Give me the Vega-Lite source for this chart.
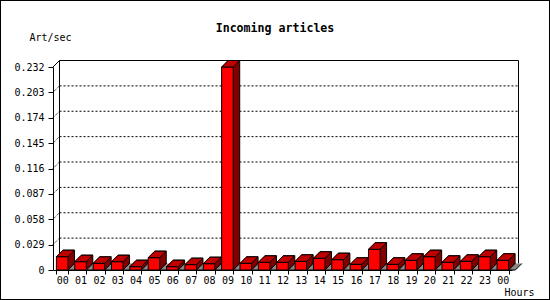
{
  "$schema": "https://vega.github.io/schema/vega-lite/v6.json",
  "width": 550,
  "height": 300,
  "autosize": {"type": "none"},
  "padding": 0,
  "background": "white",
  "config": {"view": {"stroke": "black", "strokeWidth": 2}, "font": "DejaVu Sans Mono"},
  "title": {"text": "Incoming articles", "anchor": "middle", "frame": "group", "offset": -35, "font": "DejaVu Sans Mono", "fontSize": 11.6, "fontWeight": "bold", "color": "black"},
  "datasets": {
    "hours": [
      {"h": 0, "v": 0.0152}, {"h": 1, "v": 0.0095}, {"h": 2, "v": 0.0076}, {"h": 3, "v": 0.0095},
      {"h": 4, "v": 0.0038}, {"h": 5, "v": 0.0141}, {"h": 6, "v": 0.0038}, {"h": 7, "v": 0.0061},
      {"h": 8, "v": 0.0072}, {"h": 9, "v": 0.232}, {"h": 10, "v": 0.0076}, {"h": 11, "v": 0.0088},
      {"h": 12, "v": 0.0088}, {"h": 13, "v": 0.0099}, {"h": 14, "v": 0.0134}, {"h": 15, "v": 0.0118},
      {"h": 16, "v": 0.0065}, {"h": 17, "v": 0.0237}, {"h": 18, "v": 0.0065}, {"h": 19, "v": 0.0111},
      {"h": 20, "v": 0.0152}, {"h": 21, "v": 0.0088}, {"h": 22, "v": 0.0099}, {"h": 23, "v": 0.0152},
      {"h": 24, "v": 0.0111}
    ],
    "grid": [{"v": 0.029}, {"v": 0.058}, {"v": 0.087}, {"v": 0.116}, {"v": 0.145}, {"v": 0.174}, {"v": 0.203}],
    "one": [{"v": 0.232}]
  },
  "resolve": {"scale": {"x": "independent"}, "axis": {"x": "independent", "y": "independent"}},
  "layer": [
    {
      "resolve": {"axis": {"x": "independent", "y": "independent"}},
      "encoding": {
        "x": {"datum": 0, "type": "quantitative", "scale": {"domain": [0, 1], "range": [53, 512]}, "axis": null},
        "y": {"field": "v", "type": "quantitative", "scale": {"domain": [0, 0.232], "range": [270, 67], "nice": false, "zero": true}, "axis": null}
      },
      "layer": [
        {"data": {"name": "grid"}, "mark": {"type": "rule", "color": "black", "strokeWidth": 1, "strokeDash": [2, 2], "xOffset": 6.5, "x2Offset": 6.5, "yOffset": -6.5},
         "encoding": {"x2": {"datum": 1}}},
        {"data": {"name": "grid"}, "mark": {"type": "rule", "color": "black", "strokeWidth": 1, "strokeDash": [1, 1], "x2Offset": 6.5, "y2Offset": -6.5},
         "encoding": {"x2": {"datum": 0}, "y2": {"field": "v"}}},
        {"data": {"name": "one"}, "mark": {"type": "rule", "color": "black", "strokeWidth": 1, "xOffset": 6.5, "x2Offset": 6.5, "yOffset": -6.5},
         "encoding": {"x2": {"datum": 1}}},
        {"data": {"name": "one"}, "mark": {"type": "rule", "color": "black", "strokeWidth": 1, "x2Offset": 6.5, "y2Offset": -6.5},
         "encoding": {"x2": {"datum": 0}, "y2": {"field": "v"}}},
        {"data": {"name": "one"}, "mark": {"type": "rule", "color": "black", "strokeWidth": 1, "xOffset": 6.5, "yOffset": -6.5, "y2Offset": -6.5},
         "encoding": {"y": {"datum": 0, "type": "quantitative", "axis": null}, "y2": {"field": "v"}}},
        {"data": {"name": "one"}, "mark": {"type": "rule", "color": "black", "strokeWidth": 1, "xOffset": 6.5, "yOffset": -6.5, "y2Offset": -6.5},
         "encoding": {"x": {"datum": 1, "type": "quantitative", "axis": null}, "y": {"datum": 0, "type": "quantitative", "axis": null}, "y2": {"field": "v"}}}
      ]
    },
    {
      "data": {"name": "hours"},
      "resolve": {"axis": {"x": "independent", "y": "independent"}},
      "encoding": {
        "x": {"field": "h", "type": "ordinal", "scale": {"range": [53, 512], "paddingInner": 0.37, "paddingOuter": 0.185}, "axis": null},
        "y": {"field": "v", "type": "quantitative", "scale": {"domain": [0, 0.232], "range": [270, 67], "nice": false, "zero": true}, "axis": null}
      },
      "layer": [
        {"mark": {"type": "point", "shape": "M-5.78,0 L12.58,0 L19.08,-6.5 L0.72,-6.5 Z", "size": 4, "filled": true, "fill": "#888888", "opacity": 1, "strokeWidth": 0},
         "encoding": {"y": {"datum": 0, "type": "quantitative", "axis": null}}},
        {"mark": {"type": "point", "shape": "M-5.78,0 L12.58,0 L19.08,-6.5", "size": 4, "filled": false, "stroke": "black", "opacity": 1, "strokeWidth": 1},
         "encoding": {"y": {"datum": 0, "type": "quantitative", "axis": null}}},
        {"mark": {"type": "bar", "fill": "#800000", "stroke": "black", "strokeWidth": 1, "xOffset": 6.5, "x2Offset": 6.5, "yOffset": -6.5, "y2Offset": -6.5}},
        {"mark": {"type": "bar", "fill": "#800000", "stroke": "#800000", "strokeWidth": 1, "xOffset": 5, "x2Offset": 5, "yOffset": -5, "y2Offset": -5}},
        {"mark": {"type": "bar", "fill": "#800000", "stroke": "#800000", "strokeWidth": 1, "xOffset": 4, "x2Offset": 4, "yOffset": -4, "y2Offset": -4}},
        {"mark": {"type": "bar", "fill": "#800000", "stroke": "#800000", "strokeWidth": 1, "xOffset": 3, "x2Offset": 3, "yOffset": -3, "y2Offset": -3}},
        {"mark": {"type": "bar", "fill": "#800000", "stroke": "#800000", "strokeWidth": 1, "xOffset": 2, "x2Offset": 2, "yOffset": -2, "y2Offset": -2}},
        {"mark": {"type": "bar", "fill": "#800000", "stroke": "#800000", "strokeWidth": 1, "xOffset": 1, "x2Offset": 1, "yOffset": -1, "y2Offset": -1}},
        {"mark": {"type": "point", "shape": "M5.78,0 L12.28,-6.5", "size": 4, "filled": false, "stroke": "black", "opacity": 1, "strokeWidth": 1},
         "encoding": {"y": {"datum": 0, "type": "quantitative", "axis": null}}},
        {"mark": {"type": "bar", "fill": "#ff0000", "stroke": "black", "strokeWidth": 1},
         "encoding": {
           "x": {"field": "h", "type": "ordinal",
             "axis": {"orient": "bottom", "offset": -30, "tickBand": "extent", "tickSize": 4, "tickColor": "black", "domainColor": "black",
               "labelColor": "black", "labelFont": "DejaVu Sans Mono", "labelFontSize": 10, "labelAngle": 0, "labelPadding": 1,
               "labelExpr": "isValid(datum.value) ? (datum.value == 24 ? '00' : (datum.value < 10 ? '0' + datum.value : '' + datum.value)) : ''",
               "labelOverlap": false, "labelFlush": false, "grid": false,
               "title": "Hours", "titleX": 519, "titleY": 22, "titleAlign": "center", "titleBaseline": "middle",
               "titleFont": "DejaVu Sans Mono", "titleFontSize": 10, "titleFontWeight": "normal", "titleColor": "black"}},
           "y": {"field": "v", "type": "quantitative",
             "axis": {"orient": "left", "offset": -53, "values": [0, 0.029, 0.058, 0.087, 0.116, 0.145, 0.174, 0.203, 0.232],
               "labelExpr": "datum.value == 0 ? '0' : format(datum.value, '.3f')",
               "tickSize": 5, "tickColor": "black", "domainColor": "black", "labelColor": "black", "labelPadding": 4,
               "labelFont": "DejaVu Sans Mono", "labelFontSize": 10, "labelOverlap": false, "labelFlush": false, "grid": false,
               "title": "Art/sec", "titleAngle": 0, "titleX": -3, "titleY": 37, "titleAlign": "center", "titleBaseline": "middle",
               "titleFont": "DejaVu Sans Mono", "titleFontSize": 10, "titleFontWeight": "normal", "titleColor": "black"}}
         }},
        {"mark": {"type": "point", "shape": "M-5.78,0 L5.78,0 L12.28,-6.5 L0.72,-6.5 Z", "size": 4, "filled": true, "fill": "#c00000", "stroke": "black", "opacity": 1, "strokeWidth": 1}}
      ]
    }
  ]
}
